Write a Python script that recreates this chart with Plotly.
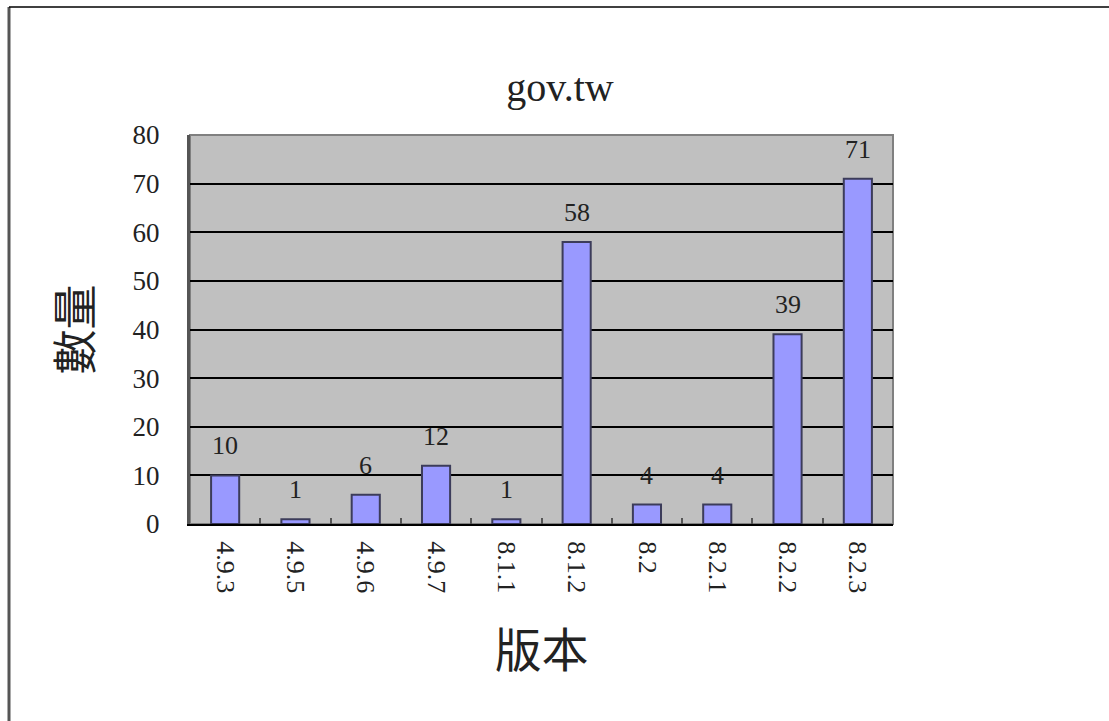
import plotly.graph_objects as go

categories = ["4.9.3", "4.9.5", "4.9.6", "4.9.7", "8.1.1", "8.1.2", "8.2", "8.2.1", "8.2.2", "8.2.3"]
values = [10, 1, 6, 12, 1, 58, 4, 4, 39, 71]
y_ticks = [0, 10, 20, 30, 40, 50, 60, 70, 80]

W, H = 1109, 721
L, R, T, B = 190, 893, 135, 524
pw, ph = R - L, B - T

SERIF = "Liberation Serif, Noto Sans CJK TC, serif"
CJK = "Noto Sans CJK TC, Liberation Serif, serif"
TXT = "#222222"

fig = go.Figure()
fig.add_trace(go.Bar(
    x=categories, y=values,
    width=0.4,
    marker=dict(color="#9999FF", line=dict(color="#3c3c5a", width=2)),
    hoverinfo="x+y",
))

# value labels (x given as category index so "8.2" is not read as a number)
for i, v in enumerate(values):
    fig.add_annotation(x=i, y=v, text=str(v), showarrow=False,
                       yanchor="bottom", yshift=13,
                       font=dict(family=SERIF, size=26, color=TXT))

fig.update_layout(
    width=W, height=H,
    margin=dict(l=L, r=W - R, t=T, b=H - B, pad=0),
    paper_bgcolor="white",
    plot_bgcolor="#C0C0C0",
    showlegend=False,
    title=dict(text="gov.tw", x=560 / W, xanchor="center",
               y=1 - 87 / H, yanchor="middle",
               font=dict(family=SERIF, size=40, color=TXT)),
    xaxis=dict(
        type="category",
        tickangle=90,
        tickfont=dict(family=SERIF, size=26, color=TXT),
        ticklabelstandoff=10,
        showline=True, linecolor="black", linewidth=2,
        ticks="inside", tickson="boundaries", ticklen=6, tickcolor="#555555", tickwidth=2,
        showgrid=False,
        title=dict(text="版本", font=dict(family=CJK, size=47, color=TXT), standoff=42),
    ),
    yaxis=dict(
        range=[0, 80], tickvals=y_ticks,
        tickfont=dict(family=SERIF, size=27, color=TXT),
        showline=True, linecolor="#555555", linewidth=3,
        showgrid=True, gridcolor="black", gridwidth=1.5,
        zeroline=False,
        ticks="", ticklabelstandoff=22,
        title=dict(text="數量", font=dict(family=CJK, size=45, color=TXT), standoff=26),
    ),
)

# plot-area border (top/right)
fig.add_shape(type="rect", xref="paper", yref="paper", x0=0, y0=0, x1=1, y1=1,
              line=dict(color="#808080", width=2), layer="below")
# outer frame lines (left and top of the picture)
fx = (9 - L) / pw
fy = 1 + (T - 7) / ph
fig.add_shape(type="line", xref="paper", yref="paper", x0=fx, x1=fx, y0=fy, y1=(B - H) / ph,
              line=dict(color="#555555", width=3))
fig.add_shape(type="line", xref="paper", yref="paper", x0=fx, x1=(W - L) / pw, y0=fy, y1=fy,
              line=dict(color="black", width=1.5))

fig.write_html("out.html")
